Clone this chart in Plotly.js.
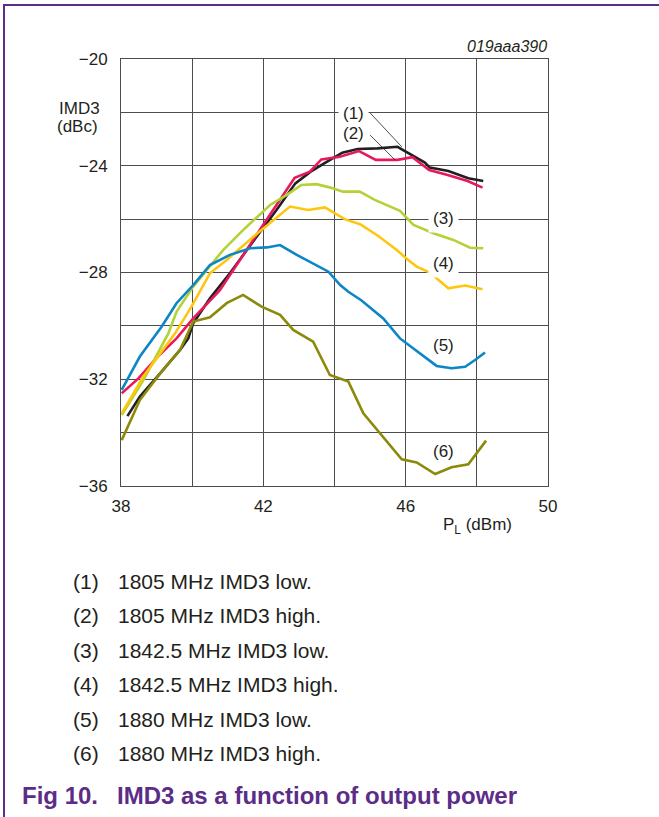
<!DOCTYPE html>
<html>
<head>
<meta charset="utf-8">
<script src="https://cdn.plot.ly/plotly-3.0.1.min.js"></script>
<style>
html,body{margin:0;padding:0;background:#fff;}
#chart{width:659px;height:817px;}
</style>
</head>
<body>
<div id="chart"></div>
<script>
// ---- data ----
const seriesNames = ['1805 MHz IMD3 low.', '1805 MHz IMD3 high.', '1842.5 MHz IMD3 low.',
  '1842.5 MHz IMD3 high.', '1880 MHz IMD3 low.', '1880 MHz IMD3 high.'];
const seriesTags = ['(1)', '(2)', '(3)', '(4)', '(5)', '(6)'];

const x1 = [38.18, 38.53, 39.10, 39.66, 39.89, 40.03, 40.50, 41.06, 41.81, 42.37, 42.90, 43.33, 43.71, 44.22, 44.65, 45.21, 45.77, 46.17, 46.54, 46.68, 47.20, 47.76, 48.18];
const y1 = [-33.38, -32.65, -31.78, -30.90, -30.47, -29.90, -28.97, -28.03, -26.66, -25.66, -24.66, -24.22, -23.91, -23.51, -23.37, -23.35, -23.29, -23.60, -23.88, -24.07, -24.20, -24.47, -24.57];

const x2 = [38.02, 38.49, 39.00, 39.56, 40.03, 40.50, 40.78, 41.90, 42.88, 43.31, 43.63, 44.15, 44.69, 45.16, 45.77, 46.19, 46.66, 47.18, 47.74, 48.16];
const y2 = [-32.53, -31.97, -31.20, -30.47, -29.72, -29.03, -28.66, -26.41, -24.45, -24.22, -23.76, -23.66, -23.45, -23.78, -23.78, -23.68, -24.16, -24.35, -24.57, -24.82];

const x3 = [38.02, 38.63, 39.33, 39.56, 40.03, 40.87, 41.43, 42.19, 42.65, 43.07, 43.49, 43.86, 44.24, 44.71, 45.13, 45.84, 46.22, 46.78, 47.34, 47.81, 48.18];
const y3 = [-33.34, -32.03, -30.28, -29.47, -28.53, -27.16, -26.41, -25.47, -25.10, -24.72, -24.69, -24.81, -24.97, -24.97, -25.28, -25.69, -26.22, -26.53, -26.78, -27.07, -27.09];

const x4 = [38.02, 38.63, 39.52, 39.98, 40.50, 40.97, 41.72, 42.19, 42.75, 43.26, 43.73, 44.30, 44.72, 45.23, 45.75, 46.07, 46.31, 46.68, 47.20, 47.67, 48.16];
const y4 = [-33.28, -31.90, -30.28, -29.28, -28.03, -27.53, -26.66, -26.16, -25.53, -25.66, -25.56, -26.01, -26.19, -26.63, -27.16, -27.53, -27.78, -28.00, -28.59, -28.49, -28.63];

const x5 = [38.02, 38.53, 39.14, 39.56, 40.03, 40.50, 41.06, 41.63, 42.10, 42.47, 42.94, 43.50, 43.83, 44.16, 44.39, 44.76, 45.37, 45.84, 46.31, 46.87, 47.29, 47.67, 47.95, 48.23];
const y5 = [-32.40, -31.15, -30.03, -29.15, -28.47, -27.72, -27.34, -27.09, -27.06, -26.97, -27.34, -27.72, -27.97, -28.47, -28.72, -29.05, -29.72, -30.47, -30.93, -31.50, -31.59, -31.53, -31.28, -31.00];

const x6 = [38.02, 38.53, 39.10, 39.66, 40.03, 40.50, 40.97, 41.43, 41.95, 42.47, 42.84, 43.40, 43.87, 44.39, 44.81, 45.28, 45.89, 46.31, 46.83, 47.29, 47.76, 48.26];
const y6 = [-34.28, -32.78, -31.78, -30.90, -29.84, -29.68, -29.15, -28.84, -29.28, -29.59, -30.15, -30.59, -31.84, -32.09, -33.28, -34.03, -35.00, -35.12, -35.55, -35.30, -35.19, -34.30];

const xTickVals = [38, 42, 46, 50];
const xTickText = ['38', '42', '46', '50'];
const xMinorVals = [40, 44, 48];
const yTickVals = [-36, -32, -28, -24, -20];
const yTickText = ['\u221236', '\u221232', '\u221228', '\u221224', '\u221220'];
const yMinorVals = [-34, -30, -26, -22];

// ---- styling / layout ----
const W = 659, H = 817;
const M = {l: 121, r: 111, t: 59, b: 331};
const PW = W - M.l - M.r, PH = H - M.t - M.b;
const px = v => (v - M.l) / PW;          // page px -> paper x
const py = v => (H - M.b - v) / PH;      // page px -> paper y

const FONT = 'Liberation Sans, Arial, Helvetica, sans-serif';
const INK = '#231f20';
const PURPLE = '#5c2d87';
const GRID = '#4d4d4d';
const colors = ['#231f20', '#e8195a', '#b3d235', '#fdc70f', '#0d86c6', '#8c8a0a'];

const xs = [x1, x2, x3, x4, x5, x6];
const ys = [y1, y2, y3, y4, y5, y6];

const traces = xs.map((x, i) => ({
  x: x, y: ys[i], type: 'scatter', mode: 'lines', name: seriesNames[i],
  line: {color: colors[i], width: 2.6}, hoverinfo: 'skip'
}));

const ann = [];
// curve labels (text centres in data units) and whether they mask the grid behind them
const tagPos = [[44.52, -22.04], [44.52, -22.78], [47.05, -25.98], [47.07, -27.66], [47.06, -30.75], [47.06, -34.71]];
const tagMask = [true, false, true, true, false, false];
tagPos.forEach((p, i) => {
  ann.push({text: seriesTags[i], x: p[0], y: p[1], xref: 'x', yref: 'y', showarrow: false,
    font: {family: FONT, size: 17, color: INK},
    bgcolor: tagMask[i] ? '#ffffff' : 'rgba(0,0,0,0)', borderpad: 4});
});

// axis titles and figure id
ann.push({text: 'IMD3', xref: 'paper', yref: 'paper', x: px(57), y: py(108), xanchor: 'left', yanchor: 'middle',
  showarrow: false, font: {family: FONT, size: 17, color: INK}});
ann.push({text: '(dBc)', xref: 'paper', yref: 'paper', x: px(55), y: py(127), xanchor: 'left', yanchor: 'middle',
  showarrow: false, font: {family: FONT, size: 17, color: INK}});
ann.push({text: 'P<sub>L</sub> (dBm)', xref: 'paper', yref: 'paper', x: px(477), y: py(526), xanchor: 'center', yanchor: 'middle',
  showarrow: false, font: {family: FONT, size: 17, color: INK}});
ann.push({text: '<i>019aaa390</i>', xref: 'paper', yref: 'paper', x: px(549), y: py(47), xanchor: 'right', yanchor: 'middle',
  showarrow: false, font: {family: FONT, size: 16, color: INK}});

// legend list below the chart
const rowY = [581, 615.5, 650, 684.5, 719, 753.5];
seriesNames.forEach((n, i) => {
  ann.push({text: seriesTags[i], xref: 'paper', yref: 'paper', x: px(71), y: py(rowY[i]), xanchor: 'left', yanchor: 'middle',
    showarrow: false, font: {family: FONT, size: 21, color: INK}});
  ann.push({text: n, xref: 'paper', yref: 'paper', x: px(116), y: py(rowY[i]), xanchor: 'left', yanchor: 'middle',
    showarrow: false, font: {family: FONT, size: 21, color: INK}});
});
// caption
ann.push({text: '<b>Fig 10.</b>', xref: 'paper', yref: 'paper', x: px(20), y: py(795), xanchor: 'left', yanchor: 'middle',
  showarrow: false, font: {family: FONT, size: 24, color: PURPLE}});
ann.push({text: '<b>IMD3 as a function of output power</b>', xref: 'paper', yref: 'paper', x: px(115), y: py(795), xanchor: 'left', yanchor: 'middle',
  showarrow: false, font: {family: FONT, size: 24, color: PURPLE}});

const shapes = [
  // purple frame
  {type: 'line', xref: 'paper', yref: 'paper', x0: px(4), x1: px(4), y0: py(5), y1: py(H + 2), line: {color: PURPLE, width: 2}},
  {type: 'line', xref: 'paper', yref: 'paper', x0: px(3), x1: px(W + 2), y0: py(5), y1: py(5), line: {color: PURPLE, width: 2}},
  // leader lines for labels (1) and (2)
  {type: 'line', xref: 'x', yref: 'y', x0: 45.00, y0: -22.02, x1: 45.89, y1: -23.29, line: {color: INK, width: 0.8}},
  {type: 'line', xref: 'x', yref: 'y', x0: 45.00, y0: -22.85, x1: 45.70, y1: -23.78, line: {color: INK, width: 0.8}}
];

const axisCommon = {
  showgrid: true, gridcolor: GRID, gridwidth: 1, zeroline: false,
  showline: true, mirror: true, linecolor: GRID, linewidth: 1,
  ticks: 'outside', tickcolor: 'rgba(0,0,0,0)', tickmode: 'array',
  tickfont: {family: FONT, size: 17, color: INK}
};

const layout = {
  width: W, height: H, margin: M, paper_bgcolor: '#ffffff', plot_bgcolor: '#ffffff',
  showlegend: false,
  xaxis: Object.assign({}, axisCommon, {range: [38, 50], tickvals: xTickVals, ticktext: xTickText, ticklen: 5,
    minor: {tickmode: 'array', tickvals: xMinorVals, showgrid: true, gridcolor: GRID, gridwidth: 1, ticks: ''}}),
  yaxis: Object.assign({}, axisCommon, {range: [-36, -20], tickvals: yTickVals, ticktext: yTickText, ticklen: 9,
    minor: {tickmode: 'array', tickvals: yMinorVals, showgrid: true, gridcolor: GRID, gridwidth: 1, ticks: ''}}),
  annotations: ann, shapes: shapes
};

Plotly.newPlot('chart', traces, layout, {staticPlot: true, displayModeBar: false});
</script>
</body>
</html>
